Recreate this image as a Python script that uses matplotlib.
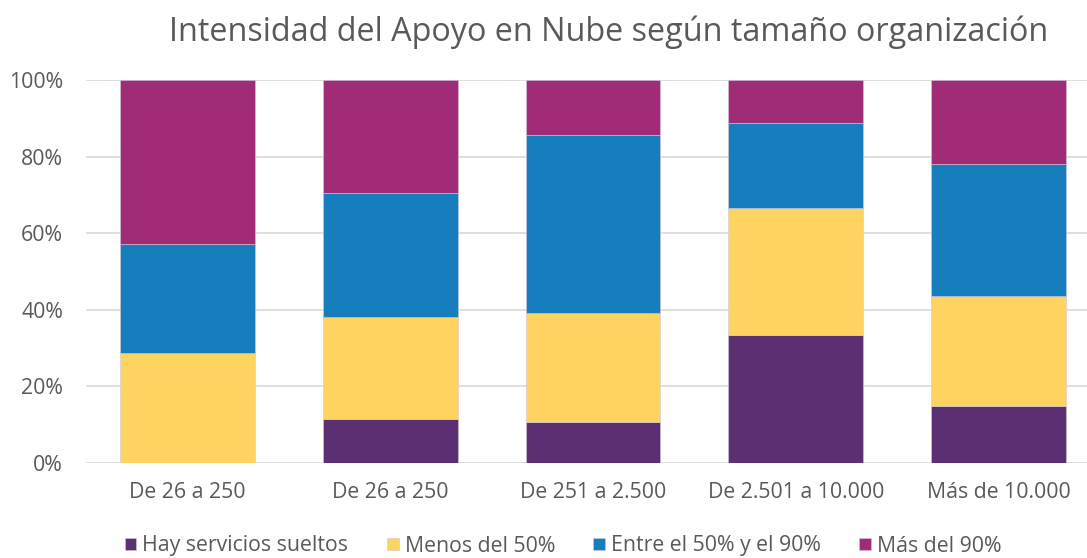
import matplotlib
matplotlib.use("Agg")
import matplotlib.pyplot as plt
from matplotlib.ticker import PercentFormatter

categories = ["De 26 a 250", "De 26 a 250", "De 251 a 2.500", "De 2.501 a 10.000", "Más de 10.000"]
series_names = ["Hay servicios sueltos", "Menos del 50%", "Entre el 50% y el 90%", "Más del 90%"]
sueltos = [0.0, 11.6, 10.6, 33.3, 14.8]
menos50 = [28.6, 26.6, 28.5, 33.3, 28.8]
entre50_90 = [28.5, 32.4, 46.6, 22.2, 34.5]
mas90 = [42.9, 29.4, 14.3, 11.2, 21.9]
colors = ["#5A3073", "#FFD35F", "#177EBE", "#A02C78"]

plt.rcParams['font.family'] = ['Open Sans', 'DejaVu Sans']
fig = plt.figure(figsize=(10.87, 5.58), dpi=100)
W, H = 1087, 558
ax = fig.add_axes([86 / W, (558 - 463) / H, 1014 / W, 383 / H])

x = list(range(len(categories)))
bottom = [0.0] * len(categories)
for vals, name, c in zip([sueltos, menos50, entre50_90, mas90], series_names, colors):
    ax.bar(x, vals, width=0.665, bottom=bottom, color=c, label=name,
           edgecolor="#d0c8d8", linewidth=0.4, zorder=3)
    bottom = [b + v for b, v in zip(bottom, vals)]

ax.set_xlim(-0.5, len(categories) - 0.5)
ax.set_ylim(0, 100)
ax.set_yticks([0, 20, 40, 60, 80, 100])
ax.yaxis.set_major_formatter(PercentFormatter(decimals=0))
ax.set_xticks(x)
ax.set_xticklabels(categories)
ax.grid(axis='y', color='#d9d9d9', linewidth=1.2, zorder=0)
for s in ax.spines.values():
    s.set_visible(False)
ax.tick_params(axis='both', length=0, labelsize=15.3, colors='#595959')
ax.tick_params(axis='x', pad=14)
ax.tick_params(axis='y', pad=16.5)

fig.text(609 / W, 1 - 32 / H, "Intensidad del Apoyo en Nube según tamaño organización",
         ha='center', va='center', fontsize=23.3, color='#595959')

handles, labels = ax.get_legend_handles_labels()
leg = fig.legend(handles, labels, loc='center', bbox_to_anchor=(563 / W, 1 - 546 / H),
                 ncol=4, frameon=False, fontsize=15.3, handlelength=0.56, handleheight=0.56,
                 handletextpad=0.28, columnspacing=1.8, labelcolor='#595959',
                 borderpad=0, borderaxespad=0)

fig.savefig("out.png", dpi=100)
